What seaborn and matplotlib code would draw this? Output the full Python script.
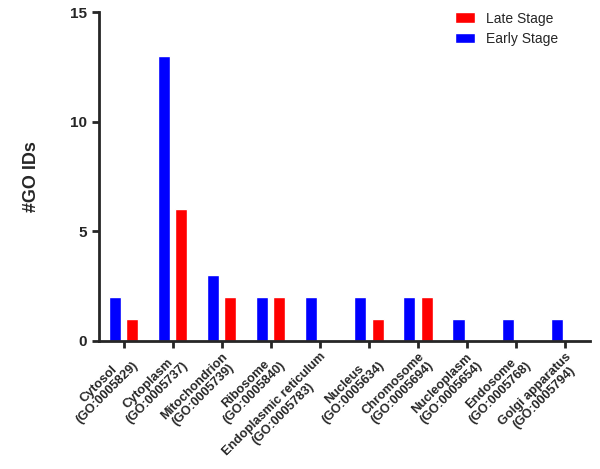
import pandas as pd
import matplotlib
matplotlib.use("Agg")
import matplotlib.pyplot as plt
import seaborn as sns

# --- data ---
categories = ["Cytosol\n(GO:0005829)", "Cytoplasm\n(GO:0005737)",
              "Mitochondrion\n(GO:0005739)", "Ribosome\n(GO:0005840)",
              "Endoplasmic reticulum\n(GO:0005783)", "Nucleus\n(GO:0005634)",
              "Chromosome\n(GO:0005694)", "Nucleoplasm\n(GO:0005654)",
              "Endosome\n(GO:0005768)", "Golgi apparatus\n(GO:0005794)"]
early_stage = [2, 13, 3, 2, 2, 2, 2, 1, 1, 1]
late_stage = [1, 6, 2, 2, 0, 1, 2, 0, 0, 0]

df = pd.DataFrame({
    "Category": categories * 2,
    "Count": early_stage + late_stage,
    "Stage": ["Early Stage"] * len(categories) + ["Late Stage"] * len(categories),
})

sns.set_style("ticks")
plt.rcParams["font.family"] = ["Liberation Sans", "DejaVu Sans"]

fig = plt.figure(figsize=(6, 4.69), dpi=100)
ax = fig.add_axes([0.165, 0.273, 0.818, 0.701])

sns.barplot(data=df, x="Category", y="Count", hue="Stage",
            hue_order=["Early Stage", "Late Stage"],
            palette={"Early Stage": "#0000ff", "Late Stage": "#ff0000"},
            width=0.7, gap=0.3, saturation=1, ax=ax)

ax.set_xlim(-0.5, 9.5)
ax.set_ylim(0, 15)
ax.set_yticks([0, 5, 10, 15])
ax.set_xlabel("")
ax.set_ylabel("#GO IDs", fontsize=13, fontweight="bold", labelpad=22)

sns.despine(ax=ax)
for s in ["left", "bottom"]:
    ax.spines[s].set_linewidth(2)
ax.tick_params(axis="both", width=2, length=5, direction="out")
ax.tick_params(axis="x", pad=2)
for lbl in ax.get_yticklabels():
    lbl.set_fontweight("bold")
    lbl.set_fontsize(11)
ax.set_xticks(range(len(categories)))
ax.set_xticklabels(categories, rotation=45, ha="right", rotation_mode="anchor",
                   multialignment="center", fontsize=9.2, fontweight="bold",
                   linespacing=1.05)

handles, labels = ax.get_legend_handles_labels()
order = [labels.index("Late Stage"), labels.index("Early Stage")]
ax.legend([handles[i] for i in order], [labels[i] for i in order],
          loc="upper left", bbox_to_anchor=(0.7, 1.04), frameon=False,
          fontsize=10, handlelength=1.4, handleheight=0.8, handletextpad=0.8,
          labelspacing=0.45)

fig.savefig("out.png", dpi=100)
